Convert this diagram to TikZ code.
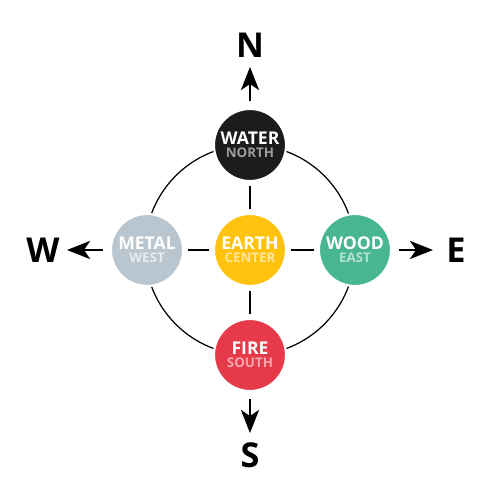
\documentclass[tikz,border=0pt]{standalone}
\usepackage{fontspec}
\setmainfont{Open Sans}
\usetikzlibrary{arrows.meta}

\definecolor{waterc}{HTML}{1C1C1C}
\definecolor{waterl}{HTML}{9C9C9C}
\definecolor{metalc}{HTML}{B9C6D0}
\definecolor{metall}{HTML}{E6EBEF}
\definecolor{earthc}{HTML}{FFC30F}
\definecolor{earthl}{HTML}{FFE597}
\definecolor{woodc}{HTML}{48B693}
\definecolor{woodl}{HTML}{B3E2D1}
\definecolor{firec}{HTML}{E63A4A}
\definecolor{firel}{HTML}{F6A7B0}

\tikzset{
    elem/.style={circle, minimum size=1.44cm, inner sep=0pt, draw=white, line width=1.2pt,
                 text=white, align=center, font=\bfseries\fontsize{10}{7.4}\selectfont},
    spoke/.style={line width=1.1pt, shorten <=0.07cm, shorten >=0.07cm},
    compass/.style={-{Stealth[length=0.46cm, width=0.36cm, inset=0.12cm]}, line width=1.6pt,
                    shorten <=0.14cm},
    dir/.style={inner sep=0pt, font=\bfseries\fontsize{19.5}{20}\selectfont}
}

\begin{document}
\begin{tikzpicture}
    \useasboundingbox (-5,-5) rectangle (5,5);

    \draw[line width=0.7pt] (0,0) circle (2.1);

    \node[elem, fill=earthc] (earth) at (0,0) {EARTH\\\textcolor{earthl}{\fontsize{7.6}{7.4}\selectfont CENTER}};
    \node[elem, fill=waterc] (water) at (0,2.1) {WATER\\\textcolor{waterl}{\fontsize{7.6}{7.4}\selectfont NORTH}};
    \node[elem, fill=metalc] (metal) at (-2.06,0) {METAL\\\textcolor{metall}{\fontsize{7.6}{7.4}\selectfont WEST}};
    \node[elem, fill=woodc] (wood) at (2.1,0) {WOOD\\\textcolor{woodl}{\fontsize{7.6}{7.4}\selectfont EAST}};
    \node[elem, fill=firec] (fire) at (0,-2.1) {FIRE\\\textcolor{firel}{\fontsize{7.6}{7.4}\selectfont SOUTH}};

    % spokes to the centre
    \draw[spoke] (earth) -- (water);
    \draw[spoke] (earth) -- (metal);
    \draw[spoke] (earth) -- (wood);
    \draw[spoke] (earth) -- (fire);

    % compass
    \node[dir] (north) at (0,4.1) {N};
    \node[dir] (south) at (0,-4.1) {S};
    \node[dir] (west) at (-4.14,0) {W};
    \node[dir] (east) at (4.12,0) {E};
    \coordinate (ntip) at (0,3.66);
    \coordinate (stip) at (0,-3.66);
    \coordinate (wtip) at (-3.66,0);
    \coordinate (etip) at (3.66,0);
    \draw[compass] (water) -- (ntip);
    \draw[compass] (fire) -- (stip);
    \draw[compass] (metal) -- (wtip);
    \draw[compass] (wood) -- (etip);
\end{tikzpicture}
\end{document}
